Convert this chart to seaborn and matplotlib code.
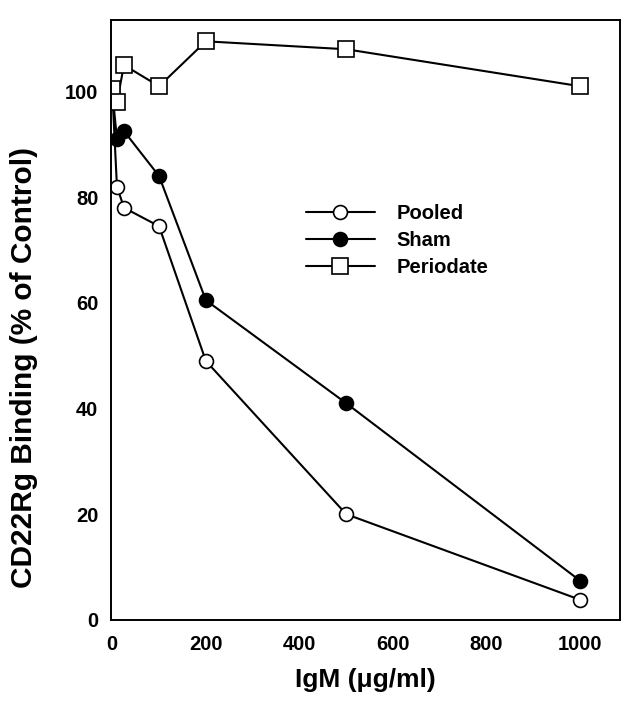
import matplotlib
matplotlib.use("Agg")
import matplotlib.pyplot as plt
import seaborn as sns
import pandas as pd

igm = [0, 10, 25, 100, 200, 500, 1000]
pooled = [100, 82, 78, 74.5, 49, 20, 3.8]
sham = [100, 91, 92.5, 84, 60.5, 41, 7.4]
periodate = [100.5, 98, 105, 101, 109.5, 108, 101]

x_ticks = [0, 200, 400, 600, 800, 1000]
y_ticks = [0, 20, 40, 60, 80, 100]

sns.set_theme(style="white")
plt.rcParams['font.family'] = ['Liberation Sans', 'DejaVu Sans']
plt.rcParams['font.weight'] = 'bold'
plt.rcParams['text.color'] = 'black'
plt.rcParams['axes.labelcolor'] = 'black'
plt.rcParams['xtick.color'] = 'black'
plt.rcParams['ytick.color'] = 'black'

fig = plt.figure(figsize=(6.3, 7.02), dpi=100)
ax = fig.add_axes([0.176, 0.117, 0.808, 0.855])

styles = [
    ("Pooled", pooled, dict(marker="o", markerfacecolor="white", markersize=10)),
    ("Sham", sham, dict(marker="o", markerfacecolor="black", markersize=10)),
    ("Periodate", periodate, dict(marker="s", markerfacecolor="white", markersize=12)),
]
for name, vals, kw in styles:
    df = pd.DataFrame({"IgM": igm, "val": vals})
    sns.lineplot(data=df, x="IgM", y="val", ax=ax, color="black", linewidth=1.5,
                 markeredgecolor="black", markeredgewidth=1.2, label=name, **kw)

ax.set_xlim(-3, 1085)
ax.set_ylim(0, 113.6)
ax.set_xticks(x_ticks)
ax.set_yticks(y_ticks)
ax.tick_params(axis='x', direction='out', length=5, width=1.2, labelsize=14.5, pad=6)
ax.tick_params(axis='y', direction='out', length=5, width=1.2, labelsize=14.5, pad=4)
for lbl in ax.get_xticklabels() + ax.get_yticklabels():
    lbl.set_fontweight('bold')
for s in ax.spines.values():
    s.set_color("black")
    s.set_linewidth(1.4)

ax.set_xlabel("IgM (\u03bcg/ml)", fontsize=19, fontweight='bold', labelpad=10)
ax.set_ylabel("CD22Rg Binding (% of Control)", fontsize=21.5, fontweight='bold')
ax.yaxis.set_label_coords(-0.143, 0.42)

leg = ax.legend(loc="upper left", bbox_to_anchor=(0.348, 0.723), frameon=False,
                fontsize=14.5, handlelength=3.4, handletextpad=1.1, labelspacing=0.4)
for t in leg.get_texts():
    t.set_fontweight('bold')

fig.savefig("out.png", dpi=100)
